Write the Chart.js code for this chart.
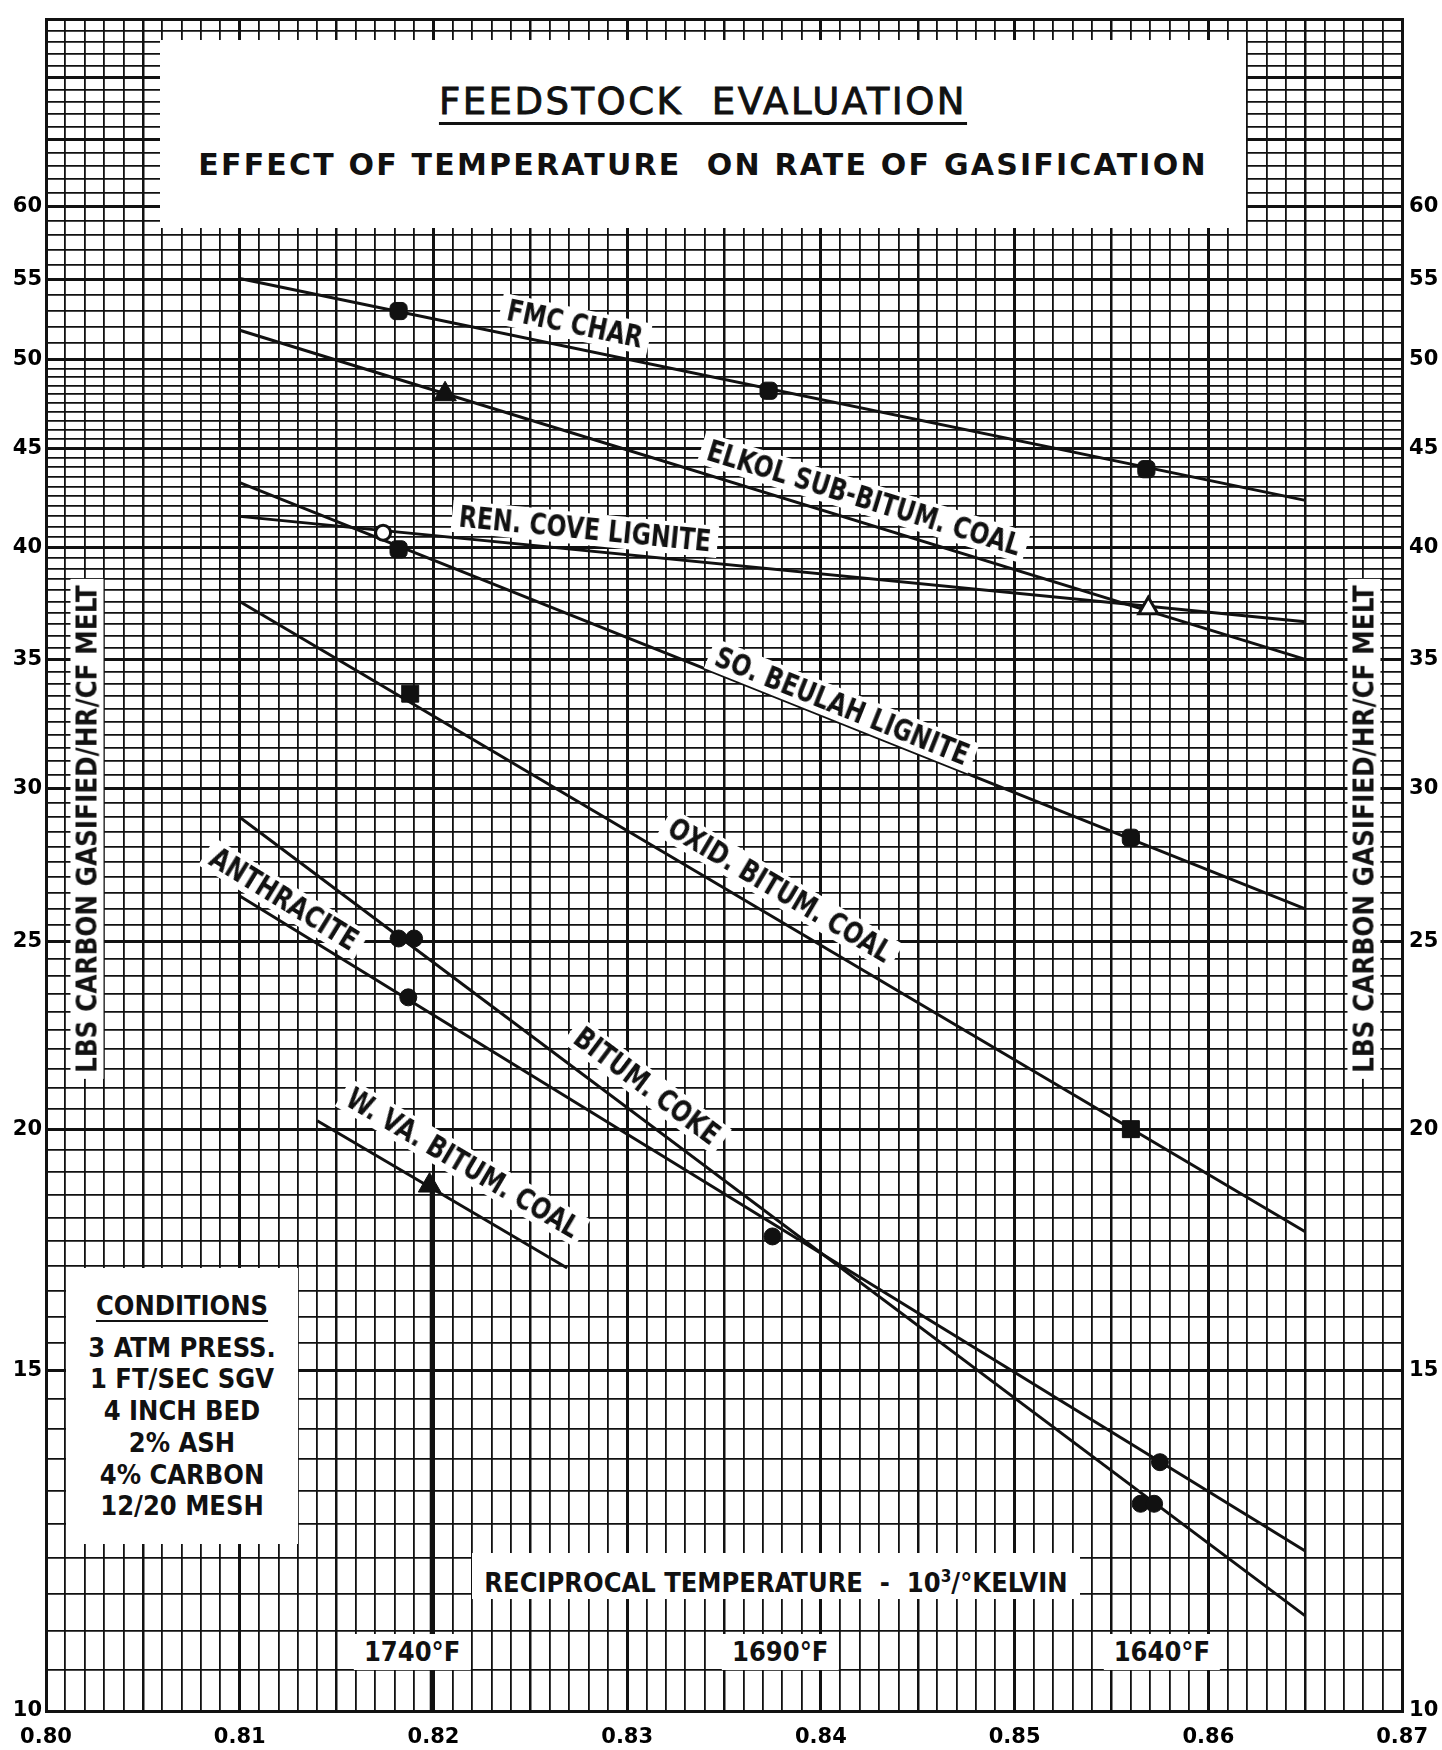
<!DOCTYPE html>
<html lang="en">
<head>
<meta charset="UTF-8">
<title>Feedstock Evaluation</title>
<script src="https://cdn.jsdelivr.net/npm/chart.js@4"></script>
<style>
html,body{margin:0;padding:0;background:#fff;}
#wrap{position:relative;width:1442px;height:1750px;overflow:hidden;background:#fff;}
canvas{display:block;}
.box{position:absolute;background:#fff;color:#111;}
.let{font-family:"DejaVu Sans Condensed","DejaVu Sans",sans-serif;font-stretch:condensed;font-weight:bold;color:#111;}
#titleBox{left:160px;top:40px;width:1086px;height:188px;text-align:center;}
#t1{position:absolute;left:0;right:0;top:40px;font:37px "DejaVu Sans",sans-serif;letter-spacing:2.5px;-webkit-text-stroke:0.9px #111;color:#111;}
#t1 span{text-decoration:underline;text-decoration-thickness:3px;text-underline-offset:8px;}
#t2{position:absolute;left:0;right:0;top:107px;font:bold 30px "DejaVu Sans",sans-serif;letter-spacing:2.2px;color:#111;}
#cond{left:66px;top:1268px;width:232px;height:276px;text-align:center;font-size:27px;line-height:31.7px;}
#cond .hd{margin-top:22px;margin-bottom:10px;}
#cond .hd span{text-decoration:underline;text-decoration-thickness:2px;text-underline-offset:5px;}
#axTitle{left:472px;top:1553px;width:608px;height:46px;line-height:46px;text-align:center;font-size:27px;}
.tag{position:absolute;background:#fff;padding:0 8px;white-space:nowrap;font-size:30px;line-height:32px;}
.ytitle{position:absolute;background:#fff;padding:0 6px;white-space:nowrap;font-size:27.5px;line-height:33px;}
.temp{position:absolute;background:#fff;padding:0 10px;white-space:nowrap;font-size:27px;line-height:36px;}
</style>
</head>
<body>
<div id="wrap">
<canvas id="chart" width="1442" height="1750"></canvas>
<div class="box" id="titleBox">
  <div id="t1"><span>FEEDSTOCK&nbsp; EVALUATION</span></div>
  <div id="t2">EFFECT OF TEMPERATURE &nbsp;ON RATE OF GASIFICATION</div>
</div>
<div class="box let" id="cond"></div>
<div class="box let" id="axTitle">RECIPROCAL TEMPERATURE &nbsp;-&nbsp; 10<sup style="font-size:17px">3</sup>/°KELVIN</div>
</div>
<script>
// axis ticks
const xTickLabels = ['0.80', '0.81', '0.82', '0.83', '0.84', '0.85', '0.86', '0.87'];
const yTickLabels = [10, 15, 20, 25, 30, 35, 40, 45, 50, 55, 60];
const tempLabels = ['1740°F', '1690°F', '1640°F'];
const tempX = [0.8189, 0.8379, 0.8576];
const conditions = ['3 ATM PRESS.', '1 FT/SEC SGV', '4 INCH BED', '2% ASH', '4% CARBON', '12/20 MESH'];

const seriesNames = ['FMC CHAR', 'ELKOL SUB-BITUM. COAL', 'REN. COVE LIGNITE', 'SO. BEULAH LIGNITE',
  'OXID. BITUM. COAL', 'BITUM. COKE', 'ANTHRACITE', 'W. VA. BITUM. COAL'];

// fitted lines (ends)
const fitX = [0.810, 0.865];
const fmcFitY = [55.1, 42.3];
const elkolFitY = [51.8, 35.0];
const renFitY = [41.5, 36.6];
const beulahFitY = [43.2, 26.0];
const oxidFitY = [37.5, 17.7];
const cokeFitY = [29.0, 11.2];
const anthFitY = [26.4, 12.1];
const wvaFitX = [0.8140, 0.8269];
const wvaFitY = [20.2, 16.95];
const refX = [0.8199, 0.8199];
const refY = [18.7, 10];

// measured points
const fmcX = [0.8182, 0.8373, 0.8568];
const fmcY = [53.0, 48.2, 43.9];
const elkolX = [0.8206];
const elkolY = [48.0];
const elkolOpenX = [0.8569];
const elkolOpenY = [37.2];
const renX = [0.8174];
const renY = [40.7];
const beulahX = [0.8182, 0.8560];
const beulahY = [39.9, 28.3];
const oxidX = [0.8188, 0.8560];
const oxidY = [33.6, 20.0];
const cokeX = [0.8182, 0.8190, 0.8375, 0.8565, 0.8572];
const cokeY = [25.1, 25.1, 17.6, 12.8, 12.8];
const anthX = [0.8187, 0.8575];
const anthY = [23.4, 13.45];
const wvaX = [0.8198];
const wvaY = [18.7];

// graph paper rulings
const xGrid = [];
for (let i = 0; i <= 70; i++) xGrid.push((800 + i) / 1000);
const yGrid = [];
for (let v = 20; v <= 100; v++) yGrid.push(v / 2);
for (let v = 51; v <= 75; v++) yGrid.push(v);

const INK = '#111';
const pts = (xs, ys) => xs.map((x, i) => ({x: x, y: ys[i]}));
function fit(xs, ys, w) {
  return {data: pts(xs, ys), showLine: true, borderColor: INK, borderWidth: w || 3, pointRadius: 0, order: 2};
}
function marks(xs, ys, style, r, filled) {
  return {data: pts(xs, ys), showLine: false, pointStyle: style, pointRadius: r, pointHoverRadius: r,
    backgroundColor: filled ? INK : '#fff', borderColor: INK, borderWidth: filled ? 1 : 3, order: 1};
}

const datasets = [
  fit(fitX, fmcFitY), fit(fitX, elkolFitY), fit(fitX, renFitY), fit(fitX, beulahFitY),
  fit(fitX, oxidFitY), fit(fitX, cokeFitY), fit(fitX, anthFitY), fit(wvaFitX, wvaFitY),
  fit(refX, refY, 3.6),
  marks(fmcX, fmcY, 'rectRounded', 10, true),
  marks(elkolX, elkolY, 'triangle', 13, true),
  marks(elkolOpenX, elkolOpenY, 'triangle', 11, false),
  marks(renX, renY, 'circle', 7.5, false),
  marks(beulahX, beulahY, 'rectRounded', 10, true),
  marks(oxidX, oxidY, 'rect', 12, true),
  marks(cokeX, cokeY, 'circle', 8.5, true),
  marks(anthX, anthY, 'circle', 8.5, true),
  marks(wvaX, wvaY, 'triangle', 13, true)
];

const tickFont = {family: 'DejaVu Sans', weight: 'bold', size: 21};

const chart = new Chart(document.getElementById('chart'), {
  type: 'scatter',
  data: {datasets: datasets},
  options: {
    responsive: false,
    animation: false,
    devicePixelRatio: 1,
    layout: {padding: {top: 3, left: 0, right: 0, bottom: 0}},
    plugins: {legend: {display: false}, tooltip: {enabled: false}},
    scales: {
      x: {
        type: 'linear', min: 0.80, max: 0.87,
        afterBuildTicks: s => { s.ticks = xGrid.map(v => ({value: v})); },
        afterFit: s => { s.height = 39; },
        ticks: {autoSkip: false, maxRotation: 0, padding: 14, color: '#000', font: tickFont,
          callback: (v, i) => (i % 10 === 0 ? xTickLabels[i / 10] : '')},
        grid: {color: INK, drawTicks: false,
          lineWidth: c => (c.index % 10 === 0 ? 3 : (c.index % 5 === 0 ? 2.5 : 1.8))},
        border: {color: INK, width: 3}
      },
      y: {
        type: 'logarithmic', position: 'left', min: 10, max: 75,
        afterBuildTicks: s => { s.ticks = yGrid.map(v => ({value: v})); },
        afterFit: s => { s.width = 46; },
        ticks: {autoSkip: false, padding: 4, color: '#000', font: tickFont,
          callback: v => (yTickLabels.includes(v) ? String(v) : '')},
        grid: {color: INK, drawTicks: false,
          lineWidth: c => (c.tick && c.tick.value % 5 === 0 ? 3 : 1.8)},
        border: {color: INK, width: 3}
      },
      y2: {
        type: 'logarithmic', position: 'right', min: 10, max: 75,
        afterBuildTicks: s => { s.ticks = yTickLabels.map(v => ({value: v})); },
        afterFit: s => { s.width = 39; },
        ticks: {autoSkip: false, padding: 7, color: '#000', font: tickFont, callback: v => String(v)},
        grid: {drawOnChartArea: false, drawTicks: false},
        border: {color: INK, width: 3}
      }
    }
  }
});

// --- overlay lettering, placed with the chart's own scales ---
const wrap = document.getElementById('wrap');
const sx = chart.scales.x, sy = chart.scales.y;
const fitYs = [fmcFitY, elkolFitY, renFitY, beulahFitY, oxidFitY, cokeFitY, anthFitY, wvaFitY];
const fitXs = [fitX, fitX, fitX, fitX, fitX, fitX, fitX, wvaFitX];
const tagAt = [[0.8273, 52.2], [0.8422, 42.4], [0.8278, 40.9], [0.8411, 33.1],
  [0.8379, 26.6], [0.8310, 21.06], [0.8123, 26.3], [0.8215, 19.2]];

seriesNames.forEach((name, i) => {
  const lx = fitXs[i], ly = fitYs[i];
  const ang = Math.atan2(sy.getPixelForValue(ly[1]) - sy.getPixelForValue(ly[0]),
    sx.getPixelForValue(lx[1]) - sx.getPixelForValue(lx[0])) * 180 / Math.PI;
  const el = document.createElement('div');
  el.className = 'tag let';
  el.textContent = name;
  el.style.left = sx.getPixelForValue(tagAt[i][0]) + 'px';
  el.style.top = sy.getPixelForValue(tagAt[i][1]) + 'px';
  el.style.transform = 'translate(-50%,-50%) rotate(' + ang.toFixed(2) + 'deg) scaleX(0.87)';
  wrap.appendChild(el);
});

tempLabels.forEach((t, i) => {
  const el = document.createElement('div');
  el.className = 'temp let';
  el.textContent = t;
  el.style.left = sx.getPixelForValue(tempX[i]) + 'px';
  el.style.top = '1652px';
  el.style.transform = 'translate(-50%,-50%)';
  wrap.appendChild(el);
});

[87, 1364].forEach(cx => {
  const el = document.createElement('div');
  el.className = 'ytitle let';
  el.textContent = 'LBS CARBON GASIFIED/HR/CF MELT';
  el.style.left = cx + 'px';
  el.style.top = '829px';
  el.style.transform = 'translate(-50%,-50%) rotate(-90deg)';
  wrap.appendChild(el);
});

const cond = document.getElementById('cond');
cond.innerHTML = '<div class="hd"><span>CONDITIONS</span></div>' + conditions.map(c => '<div>' + c + '</div>').join('');
</script>
</body>
</html>
